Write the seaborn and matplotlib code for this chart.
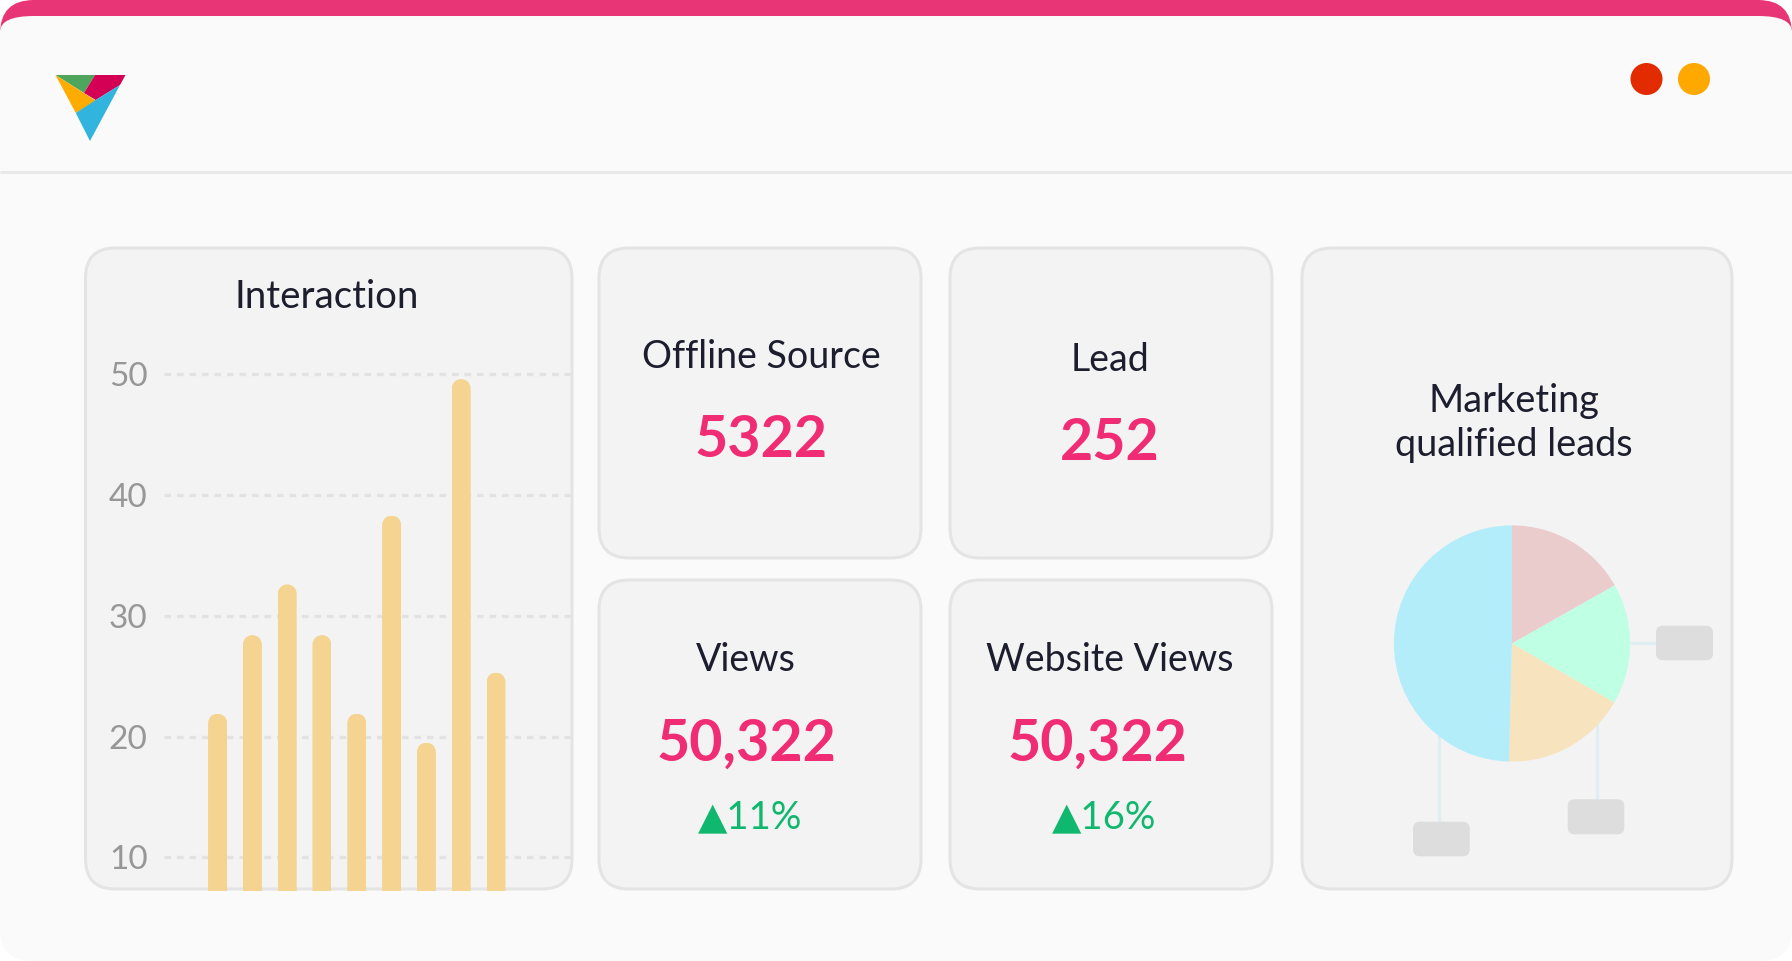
import matplotlib
matplotlib.use("Agg")
import matplotlib.pyplot as plt
import seaborn as sns
from matplotlib.patches import Circle, FancyBboxPatch, Polygon
from matplotlib.path import Path
from matplotlib.transforms import Affine2D, IdentityTransform

# bar panel data
bar_days = ["1", "2", "3", "4", "5", "6", "7", "8", "9"]
bar_values = [21.9, 28.4, 32.6, 28.4, 21.9, 38.3, 19.5, 49.6, 25.3]
bar_ticks = [10, 20, 30, 40, 50]

# pie panel data
pie_values = [60.5, 59.5, 61.5, 178.5]
pie_colors = ["#eacccd", "#bfffe4", "#f7e3bd", "#b3edfa"]

WIDTH, HEIGHT = 1792, 961
DARK = "#1c1e2e"
PINK = "#f02d74"
GREEN = "#10b86f"

sns.set_theme(style="white")
plt.rcParams["font.family"] = ["Lato", "DejaVu Sans"]

fig = plt.figure(figsize=(WIDTH / 100, HEIGHT / 100), dpi=100, facecolor="white")

# whole figure axes in pixels, used for the window and the cards
bg = fig.add_axes([0, 0, 1, 1], zorder=0)
bg.set_xlim(0, WIDTH)
bg.set_ylim(HEIGHT, 0)
bg.axis("off")


def rounded(x0, y0, x1, y1, r, fc, ec="none", lw=0, aspect=1, z=1):
    box = FancyBboxPatch((x0, y0), x1 - x0, y1 - y0, boxstyle=f"round,pad=0,rounding_size={r}",
                         fc=fc, ec=ec, lw=lw, mutation_aspect=aspect, zorder=z)
    bg.add_patch(box)
    return box


def pixel_axes(x0, y0, x1, y1, z=2):
    return fig.add_axes([x0 / WIDTH, 1 - y1 / HEIGHT, (x1 - x0) / WIDTH, (y1 - y0) / HEIGHT],
                        facecolor="none", zorder=z)


def capped_bar_path(bb):
    # bar outline with a half circle on top, in display coordinates
    r = bb.width / 2
    arc = Path.arc(0, 180)
    arc = arc.transformed(Affine2D().scale(r, r).translate(bb.x0 + r, bb.y1 - r))
    verts = [(bb.x0, bb.y0), (bb.x1, bb.y0)] + [tuple(v) for v in arc.vertices] + [(bb.x0, bb.y0)]
    codes = [Path.MOVETO, Path.LINETO, Path.LINETO] + list(arc.codes[1:]) + [Path.CLOSEPOLY]
    return Path(verts, codes)


# window
rounded(0, 0, WIDTH, 100, 34, "#e73575")
rounded(0, 16, WIDTH, 200, 34, "#fafafa", aspect=0.47)
rounded(0, 100, WIDTH, 961, 32, "#fafafa")
bg.plot([0, WIDTH], [172, 172], color="#e8e8e8", lw=2.2, zorder=2, solid_capstyle="butt")

# logo
bg.add_patch(Polygon([(55.5, 75), (95, 75), (84, 93)], fc="#4ea65c", lw=0, zorder=2))
bg.add_patch(Polygon([(95, 75), (125.5, 75), (120, 85), (95.7, 100), (84, 93)], fc="#d40055", lw=0, zorder=2))
bg.add_patch(Polygon([(55.5, 75), (95.7, 100.7), (75.8, 113)], fc="#ffab00", lw=0, zorder=2))
bg.add_patch(Polygon([(120, 85), (90, 141), (75.8, 113), (95.7, 100)], fc="#31b5de", lw=0, zorder=2))

# window buttons
bg.add_patch(Circle((1646.5, 79), 16, fc="#e22b00", lw=0, zorder=2))
bg.add_patch(Circle((1694, 79), 16, fc="#ffa800", lw=0, zorder=2))

# cards
for x0, y0, x1, y1 in [(85.5, 248, 572, 889), (599, 248, 921, 558), (950, 248, 1272, 558),
                       (599, 580, 921, 889), (950, 580, 1272, 889), (1302, 248, 1732, 889)]:
    rounded(x0, y0, x1, y1, 30, "#f3f3f3", ec="#e4e4e4", lw=2.2, z=2)

# card texts
title_kw = dict(color=DARK, fontsize=27, ha="center", va="baseline", zorder=3)
value_kw = dict(color=PINK, fontsize=41.3, fontweight="bold", ha="center", va="baseline", zorder=3)
delta_kw = dict(color=GREEN, fontsize=27.5, ha="left", va="baseline", zorder=3)

bg.text(327, 308, "Interaction", **dict(title_kw, fontsize=27.6))
bg.text(761, 367.5, "Offline Source", **title_kw)
bg.text(1110.5, 371, "Lead", **title_kw)
bg.text(745.6, 670.7, "Views", **title_kw)
bg.text(1110, 670.7, "Website Views", **title_kw)
bg.text(1513.5, 412, "Marketing", **dict(title_kw, fontsize=27.3))
bg.text(1513.5, 456, "qualified leads", **dict(title_kw, fontsize=27.3))
bg.text(761, 456.7, "5322", **value_kw)
bg.text(1110, 460, "252", **value_kw)
bg.text(746, 760.7, "50,322", **value_kw)
bg.text(1097, 760.7, "50,322", **value_kw)
bg.text(698, 828.8, "▲11%", **delta_kw)
bg.text(1052, 828.8, "▲16%", **delta_kw)

# bar chart
ax = pixel_axes(164, 360, 571, 891)
sns.barplot(x=bar_days, y=bar_values, color="#f5d491", saturation=1, width=0.546, linewidth=0, ax=ax, zorder=3)
ax.set_xlim(-1.54, 10.155)
ax.set_ylim(7.21, 51.18)
ax.set_yticks(bar_ticks)
ax.set_xticks([])
ax.set_xlabel("")
ax.set_ylabel("")
ax.tick_params(axis="y", length=0, pad=11.8, labelsize=24, labelcolor="#979797")
ax.yaxis.grid(True, color="#e2e2e2", lw=2.4, linestyle=(0, (1.97, 1.78)))
ax.xaxis.grid(False)
ax.set_axisbelow(True)
sns.despine(ax=ax, left=True, bottom=True)

# rounded bar tops
fig.canvas.draw()
for bar in ax.patches:
    bar.set_clip_path(capped_bar_path(bar.get_window_extent()), IdentityTransform())

# pie leaders and label boxes
for xs, ys in [([1630, 1660], [642.7, 642.7]), ([1597.3, 1597.3], [715, 802]), ([1439.3, 1439.3], [730, 825])]:
    bg.plot(xs, ys, color="#dfeef2", lw=2.2, zorder=3, solid_capstyle="butt")
rounded(1656, 625.7, 1713, 660.3, 7, "#dddddd", z=3)
rounded(1567.7, 799.3, 1624.3, 834.3, 7, "#dddddd", z=3)
rounded(1413, 821.7, 1469.7, 856.3, 7, "#dddddd", z=3)

# pie
pie_ax = pixel_axes(1512 - 124, 643.5 - 124, 1512 + 124, 643.5 + 124, z=4)
pie_ax.pie(pie_values, colors=pie_colors, startangle=90, counterclock=False, radius=1,
           wedgeprops=dict(linewidth=0))
pie_ax.set_xlim(-1.05, 1.05)
pie_ax.set_ylim(-1.05, 1.05)

fig.savefig("out.png", dpi=100, facecolor="white")
